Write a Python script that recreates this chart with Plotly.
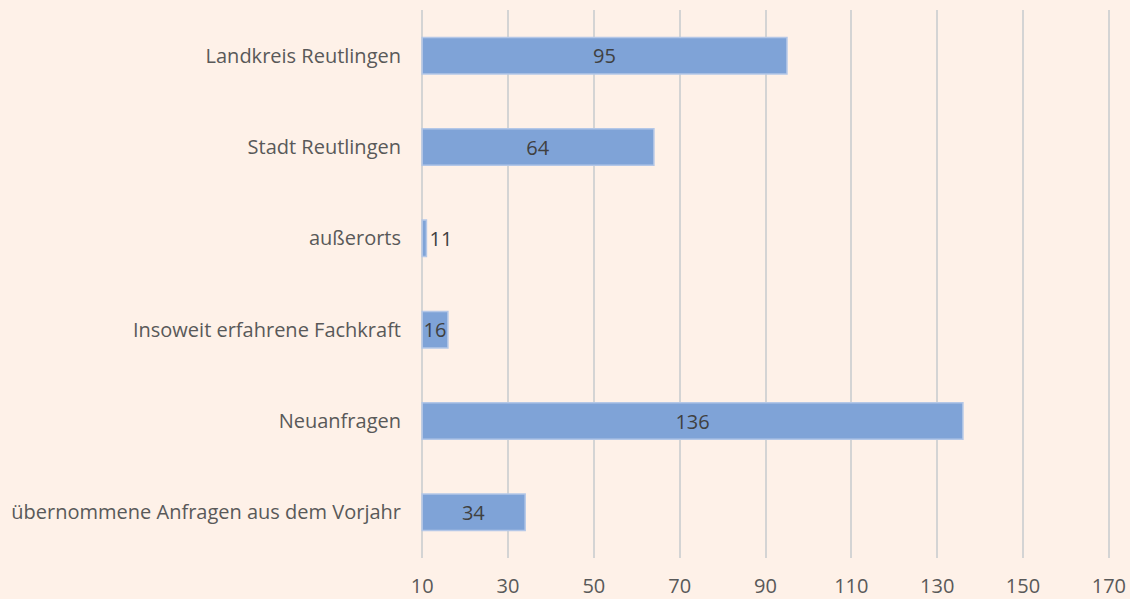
import plotly.graph_objects as go

categories = [
    "Landkreis Reutlingen",
    "Stadt Reutlingen",
    "außerorts",
    "Insoweit erfahrene Fachkraft",
    "Neuanfragen",
    "übernommene Anfragen aus dem Vorjahr",
]
values = [95, 64, 11, 16, 136, 34]
x_ticks = [10, 30, 50, 70, 90, 110, 130, 150, 170]
axis_min = 10

text_pos = ["outside" if v < 15 else "inside" for v in values]

fig = go.Figure(go.Bar(
    y=categories,
    x=[v - axis_min for v in values],
    base=axis_min,
    orientation="h",
    text=[str(v) for v in values],
    textposition=text_pos,
    insidetextanchor="middle",
    constraintext="none",
    cliponaxis=False,
    textfont=dict(family="Open Sans, Lato, sans-serif", size=20, color="#404040"),
    marker=dict(color="#7FA3D7", line=dict(color="#B4C7E7", width=1.5)),
    hoverinfo="y+text",
))

fig.update_layout(
    width=1130, height=599,
    paper_bgcolor="#FEF1E8",
    plot_bgcolor="#FEF1E8",
    margin=dict(l=420, r=19, t=10, b=41),
    bargap=0.6,
    showlegend=False,
    font=dict(family="Open Sans, Lato, sans-serif", size=20, color="#595959"),
)
fig.update_xaxes(
    range=[9.5, 170.5],
    tickvals=x_ticks,
    showgrid=True, gridcolor="#D4D4D4", gridwidth=1.5,
    zeroline=False, showline=False,
    ticks="", ticklabelstandoff=14,
    automargin=False,
    tickfont=dict(size=20, color="#595959"),
)
fig.update_yaxes(
    autorange="reversed",
    showgrid=False, zeroline=False, showline=False,
    ticks="", ticklabelstandoff=18,
    automargin=False,
    tickfont=dict(size=20, color="#595959"),
)

fig.write_html(
    "out.html",
    config={"displayModeBar": False},
    post_script="document.body.style.margin='0';document.body.style.overflow='hidden';",
)
